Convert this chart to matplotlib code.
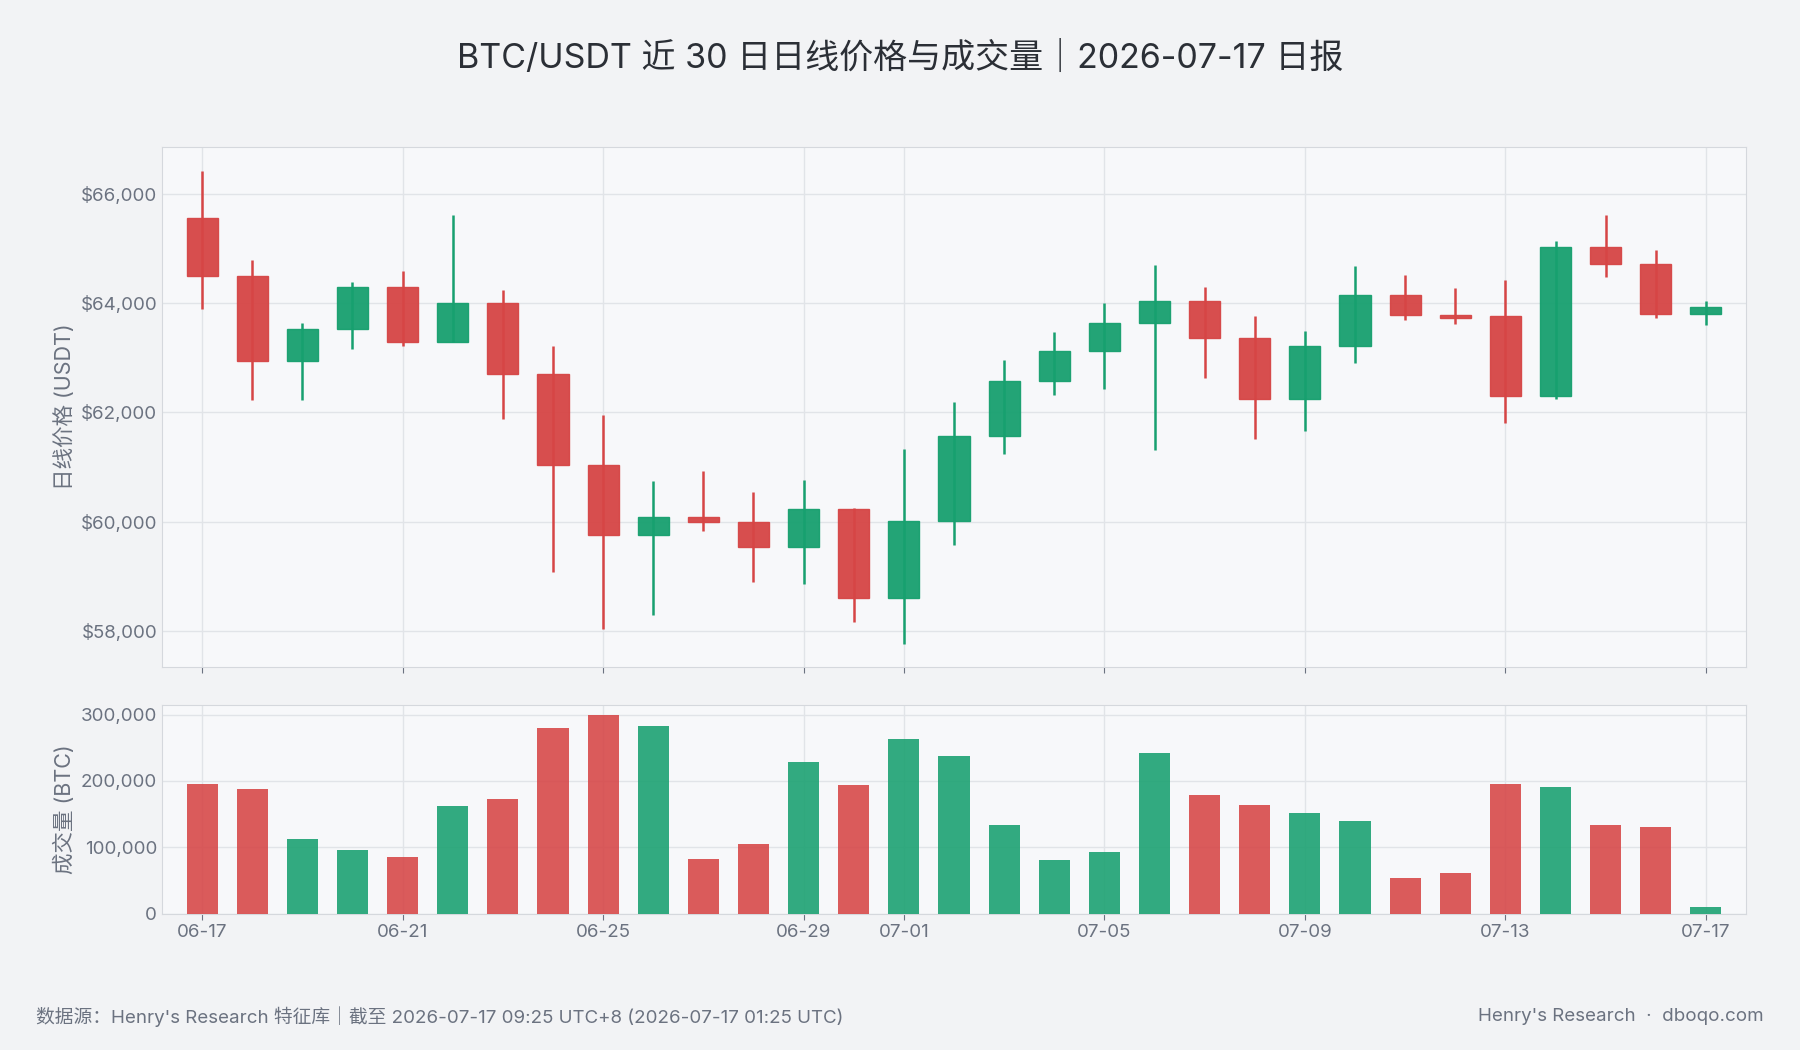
import matplotlib
matplotlib.use("Agg")
import matplotlib.pyplot as plt
from matplotlib.ticker import FuncFormatter
import datetime as dt

plt.rcParams['font.family'] = ['Inter', 'Noto Sans CJK SC', 'DejaVu Sans']

start = dt.date(2026, 6, 17)
dates = [start + dt.timedelta(days=i) for i in range(31)]
opens  = [65560,64490,62930,63520,64290,63290,63990,62700,61040,59760,60080,59990,59540,60230,58610,60010,61560,62580,63130,63630,64040,63350,62240,63210,64150,63780,63760,62300,65020,64710,63800]
closes = [64490,62930,63520,64290,63290,63990,62700,61040,59760,60080,59990,59540,60230,58610,60010,61560,62580,63130,63630,64040,63350,62240,63210,64150,63780,63720,62300,65020,64710,63800,63920]
highs  = [66420,64790,63630,64390,64580,65600,64240,63210,61960,60740,60930,60550,60760,60260,61330,62190,62960,63470,63990,64700,64300,63760,63490,64680,64510,64280,64410,65140,65600,64970,64030]
lows   = [63880,62230,62230,63150,63210,63290,61870,59090,58040,58290,59840,58900,58860,58170,57770,59570,61230,62310,62420,61310,62630,61520,61660,62900,63680,63610,61810,62250,64470,63720,63590]
volumes = [195000,188000,112000,96000,85000,162000,173000,279000,300000,283000,82000,105000,228000,194000,263000,237000,133000,80000,92000,242000,178000,164000,152000,140000,54000,61000,195000,190000,133000,131000,10000]
tick_idx = [0,4,8,12,14,18,22,26,30]
tick_labels = [dates[i].strftime("%m-%d") for i in tick_idx]

RED = "#d64545"; GREEN = "#17a06f"; TXT = "#6b7280"
fig = plt.figure(figsize=(18, 10.5), dpi=100, facecolor="#f2f3f5")
ax = fig.add_axes([0.090, 0.365, 0.880, 0.495])
axv = fig.add_axes([0.090, 0.130, 0.880, 0.199], sharex=ax)
x = list(range(31))
for a in (ax, axv):
    a.set_facecolor("#f7f8fa")
    for s in a.spines.values():
        s.set_color("#d5d8dd")
    a.grid(True, color="#e1e4e8", lw=1)
    a.set_axisbelow(True)
    a.tick_params(colors=TXT, labelsize=13.5, length=4)
    a.tick_params(axis='y', length=0)

for i in x:
    up = closes[i] >= opens[i]
    c = GREEN if up else RED
    ax.vlines(i, lows[i], highs[i], color=c, lw=1.8, zorder=2)
    lo = min(opens[i], closes[i]); h = max(abs(closes[i]-opens[i]), 60)
    ax.bar(i, h, bottom=lo, width=0.62, color=c, alpha=0.95, edgecolor=c, lw=1, zorder=3)
    axv.bar(i, volumes[i], width=0.62, color=c, alpha=0.88, zorder=3)

ax.set_xlim(-0.8, 30.8)
ax.set_ylim(57350, 66850)
ax.set_yticks([58000, 60000, 62000, 64000, 66000])
ax.yaxis.set_major_formatter(FuncFormatter(lambda v, p: f"${v:,.0f}"))
ax.set_xticks(tick_idx)
ax.tick_params(axis='x', labelbottom=False)
ax.set_ylabel("日线价格 (USDT)", color=TXT, fontsize=15.5)

axv.set_ylim(0, 315000)
axv.set_yticks([0, 100000, 200000, 300000])
axv.yaxis.set_major_formatter(FuncFormatter(lambda v, p: f"{v:,.0f}"))
axv.set_xticks(tick_idx)
axv.set_xticklabels(tick_labels)
axv.set_ylabel("成交量 (BTC)", color=TXT, fontsize=15.5)

fig.text(0.5, 0.945, "BTC/USDT 近 30 日日线价格与成交量｜2026-07-17 日报", ha="center", va="center", fontsize=24.5, color="#2b2f36")
fig.text(0.020, 0.032, "数据源：Henry's Research 特征库｜截至 2026-07-17 09:25 UTC+8 (2026-07-17 01:25 UTC)", fontsize=13.5, color=TXT, va="center")
fig.text(0.980, 0.032, "Henry's Research  ·  dboqo.com", fontsize=13.5, color=TXT, va="center", ha="right")
fig.savefig("out.png", dpi=100, facecolor=fig.get_facecolor())
